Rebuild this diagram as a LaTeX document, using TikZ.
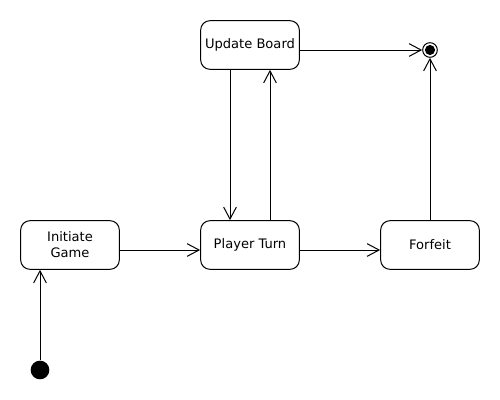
\documentclass[tikz,border=0pt]{standalone}
\usepackage{fontspec}
\setmainfont{DejaVu Sans}
\usetikzlibrary{arrows.meta, positioning}

\begin{document}
\begin{tikzpicture}[x=0.75pt, y=-0.75pt,
    statebox/.style={draw, line width=0.75pt, rounded corners=7pt, minimum width=74pt, minimum height=36.5pt, align=center, inner sep=2pt, font=\fontsize{9.8}{12}\selectfont},
    flow/.style={-{Straight Barb[length=9pt,width=9.5pt]}, line width=0.75pt}]
        \useasboundingbox (0,0) rectangle (500,400);
        % States
        \node[statebox] (init) at (70,245) {Initiate\\Game};
        \node[statebox] (turn) at (250,245) {Player Turn};
        \node[statebox] (board) at (250,45) {Update Board};
        \node[statebox] (forfeit) at (430,245) {Forfeit};
        % Start and end points
        \node[circle, fill, minimum size=14pt, inner sep=0pt] (start) at (40,370) {};
        \node[circle, draw, line width=0.75pt, minimum size=11pt, inner sep=0pt] (fin) at (430,50) {};
        \fill (fin.center) circle[radius=3.8pt];
        % Transitions
        \draw[flow] (start.north) -- (start |- init.south);
        \draw[flow] ([yshift=-3.75pt]init.east) -- ([yshift=-3.75pt]turn.west);
        \draw[flow] ([yshift=-3.75pt]turn.east) -- ([yshift=-3.75pt]forfeit.west);
        \draw[flow] ([xshift=-15pt]board.south) -- ([xshift=-15pt]turn.north);
        \draw[flow] ([xshift=15pt]turn.north) -- ([xshift=15pt]board.south);
        \draw[flow] (board.east |- fin) -- (fin);
        \draw[flow] (forfeit) -- (fin);
      \end{tikzpicture}
\end{document}
